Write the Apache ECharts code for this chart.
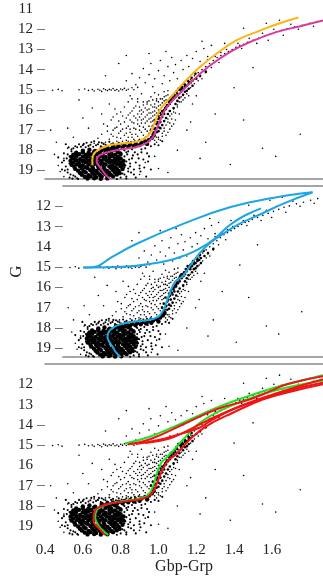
<!DOCTYPE html>
<html>
<head>
<meta charset="utf-8">
<script src="https://cdn.jsdelivr.net/npm/echarts@6/dist/echarts.min.js"></script>
<style>
  html, body { margin: 0; padding: 0; background: #fff; }
  #cmd { width: 323px; height: 579px; }
</style>
</head>
<body>
<div id="cmd"></div>
<script>
// colour-magnitude diagram, three stacked panels sharing the same stars

const xTicks = [0.4, 0.6, 0.8, 1.0, 1.2, 1.4, 1.6]
const yLabelsTop = [11, 12, 13, 14, 15, 16, 17, 18, 19]
const yLabels = [12, 13, 14, 15, 16, 17, 18, 19]
const yTicksTop = [12, 13, 14, 15, 16, 17, 18, 19]
const yTicksMid = [12, 13, 15, 16, 18, 19]
const yTicksLow = [14, 15, 17, 18]

// dense turn-off blob + subgiant branch
const coreStars = [
  [0.6,18.02],[0.635,17.97],[0.665,18.03],[0.7,17.98],[0.735,18.02],[0.77,17.97],
  [0.565,18.12],[0.6,18.1],[0.63,18.13],[0.66,18.08],[0.69,18.12],[0.72,18.09],[0.75,18.13],[0.785,18.08],
  [0.55,18.22],[0.58,18.19],[0.615,18.23],[0.645,18.2],[0.675,18.18],[0.705,18.23],[0.74,18.2],[0.77,18.22],[0.8,18.18],
  [0.54,18.33],[0.565,18.29],[0.6,18.31],[0.63,18.28],[0.66,18.32],[0.69,18.3],[0.72,18.33],[0.755,18.28],[0.785,18.32],
  [0.55,18.41],[0.585,18.44],[0.615,18.39],[0.645,18.43],[0.68,18.4],[0.71,18.42],[0.74,18.38],[0.77,18.43],[0.8,18.4],
  [0.535,18.52],[0.565,18.49],[0.6,18.53],[0.63,18.5],[0.66,18.48],[0.695,18.52],[0.725,18.5],[0.755,18.53],[0.785,18.48],[0.815,18.52],
  [0.55,18.61],[0.58,18.63],[0.615,18.59],[0.645,18.62],[0.675,18.6],[0.705,18.64],[0.74,18.59],[0.77,18.62],[0.8,18.6],
  [0.54,18.72],[0.57,18.69],[0.6,18.73],[0.63,18.7],[0.66,18.68],[0.69,18.72],[0.72,18.7],[0.755,18.73],[0.785,18.69],[0.815,18.72],
  [0.555,18.81],[0.585,18.79],[0.615,18.83],[0.65,18.8],[0.68,18.78],[0.71,18.82],[0.74,18.8],[0.77,18.83],[0.8,18.79],
  [0.56,18.92],[0.595,18.9],[0.625,18.88],[0.655,18.92],[0.685,18.9],[0.715,18.93],[0.75,18.89],[0.78,18.91],[0.81,18.93],
  [0.575,19.01],[0.605,19.03],[0.64,18.99],[0.67,19.02],[0.7,19.0],[0.73,19.03],[0.76,18.99],[0.79,19.02],
  [0.585,19.12],[0.615,19.09],[0.65,19.11],[0.68,19.13],[0.71,19.1],[0.74,19.12],[0.77,19.09],[0.795,19.13],
  [0.595,19.21],[0.63,19.23],[0.66,19.2],[0.69,19.22],[0.72,19.19],[0.75,19.23],[0.78,19.2],
  [0.61,19.31],[0.64,19.29],[0.67,19.33],[0.7,19.3],[0.73,19.32],[0.76,19.29],
  [0.625,19.4],[0.66,19.38],[0.695,19.41],[0.73,19.39],
  [0.7,17.9],[0.73,17.86],[0.76,17.82],[0.79,17.79],[0.82,17.75],[0.85,17.71],[0.88,17.68],[0.91,17.63],[0.93,17.56],
  [0.72,17.96],[0.75,17.93],[0.78,17.89],[0.81,17.86],[0.84,17.82],[0.87,17.78],[0.9,17.74],[0.94,17.68],
  [0.95,17.48],[0.965,17.38],[0.975,17.26]
]

// red giant branch band
const giantStars = [
  [0.97,17.2],[0.99,17.1],[0.98,16.95],[1.0,16.85],[0.99,16.7],[1.01,16.6],[1.0,16.45],[1.02,16.35],[1.03,16.2],
  [1.02,16.05],[1.04,15.95],[1.05,15.8],[1.06,15.7],[1.07,15.55],[1.08,15.45],[1.09,15.35],[1.1,15.2],[1.12,15.1],
  [1.13,14.95],[1.15,14.8],[1.17,14.65],[1.2,14.45],[1.22,14.3],[1.25,14.1],
  [1.0,17.05],[1.01,16.9],[1.02,16.75],[1.03,16.55],[1.04,16.4],[1.05,16.2],[1.06,16.05],[1.08,15.9],[1.09,15.7],
  [1.1,15.55],[1.11,15.4],[1.13,15.25],[1.14,15.1],[1.16,14.95],[1.18,14.8],[0.96,17.0],[0.97,16.8],[0.98,16.5],
  [1.0,16.3],[1.01,16.15],[1.12,14.9],[1.14,14.75],[1.16,14.6],[1.11,15.0],[1.15,15.05],
  [0.975,17.1],[0.985,16.9],[0.995,16.6],[1.005,16.4],[1.015,16.25],[1.025,16.1],[1.035,15.9],[1.045,15.75],
  [1.055,15.6],[1.065,15.45],[1.075,15.35],[1.085,15.25],[1.095,15.1],[1.105,14.95],[1.125,14.85],[1.135,14.7],
  [1.155,14.55],[1.175,14.4],[1.195,14.2],[1.03,16.0],[1.04,15.85],[1.06,15.5],[1.07,15.35],[1.12,15.0],
  [1.14,14.85],[1.16,14.7],[1.18,14.55]
]

// stars around the turn-off blob
const edgeStars = [
  [0.5,18.5],[0.51,18.8],[0.52,18.2],[0.52,19.1],[0.53,18.65],[0.53,19.35],[0.54,17.95],[0.55,19.25],[0.56,17.8],
  [0.57,19.38],[0.58,17.7],[0.6,17.75],[0.62,17.62],[0.64,17.72],[0.66,17.55],[0.68,17.7],[0.7,17.62],[0.72,17.72],
  [0.74,17.58],[0.76,17.65],[0.8,18.1],[0.82,18.3],[0.83,18.55],[0.84,18.05],[0.85,18.8],[0.86,18.4],[0.84,19.05],
  [0.83,19.3],[0.87,19.2],[0.88,18.6],[0.89,18.2],[0.86,17.95],[0.82,18.85],[0.81,19.15],[0.8,19.35],[0.78,19.42],
  [0.9,18.9],[0.92,18.45],[0.91,17.95],[0.94,18.15],[0.88,17.85],[0.49,18.95],[0.51,17.7],[0.47,18.35],
  [0.49,18.6],[0.5,18.15],[0.505,19.0],[0.515,18.4],[0.52,18.95],[0.525,17.85],[0.53,18.3],[0.535,19.2],[0.54,18.05],
  [0.545,19.4],[0.55,17.9],[0.56,19.3],[0.57,17.85],[0.575,19.42],[0.59,17.82],[0.605,17.68],[0.615,17.85],[0.63,17.78],
  [0.645,17.6],[0.655,17.82],[0.67,17.75],[0.685,17.6],[0.695,17.8],[0.71,17.68],[0.73,17.78],[0.75,17.7],[0.775,17.72],
  [0.79,17.62],[0.805,17.68],[0.83,17.62],[0.855,17.58],[0.875,17.55],[0.895,17.52],[0.82,18.0],[0.835,18.2],
  [0.845,18.45],[0.85,18.65],[0.84,18.9],[0.855,19.1],[0.83,19.4],[0.865,18.25],[0.87,18.95],[0.875,18.1],[0.88,19.35],
  [0.895,18.4],[0.9,18.75],[0.905,19.05],[0.91,18.1],[0.925,18.85],[0.935,19.3],[0.945,18.55],[0.96,18.95],[0.82,19.2],
  [0.81,18.6],[0.825,18.75],[0.83,18.1],[0.815,17.95],[0.96,17.8],[0.93,17.9],[0.98,17.7],[1.0,17.75],[1.02,17.55],[0.95,18.3]
]

// horizontal branch, upper giants and field
const fieldStars = [
  [0.44,15.02],[0.47,14.98],[0.49,15.05],[0.58,15.0],[0.61,14.96],[0.63,15.03],[0.65,14.99],[0.66,15.06],[0.68,14.97],
  [0.69,15.02],[0.7,15.08],[0.71,14.95],[0.72,15.0],[0.73,15.04],[0.74,14.98],[0.75,15.01],[0.76,14.94],[0.77,15.03],
  [0.78,14.99],[0.79,15.06],[0.8,14.96],[0.81,15.0],[0.82,14.93],[0.83,15.02],[0.84,14.97],[0.86,14.9],[0.87,15.0],[0.89,14.88],
  [0.83,14.55],[0.86,14.2],[0.88,14.75],[0.9,14.4],[0.92,13.95],[0.93,14.65],[0.95,14.25],[0.96,13.7],[0.97,14.85],
  [0.98,14.45],[1.0,14.05],[1.01,13.55],[1.02,14.7],[1.03,14.3],[1.05,13.85],[1.06,14.55],[1.07,13.4],[1.08,14.15],
  [1.09,13.75],[1.1,14.45],[1.12,13.55],[1.13,14.0],[1.15,13.3],[1.16,13.85],[1.18,13.45],[1.2,13.1],[1.22,13.6],
  [1.24,12.95],[1.26,13.35],[1.28,12.8],[0.85,15.3],[0.89,15.45],[0.91,15.2],[0.94,15.6],[0.96,15.35],[0.98,15.15],
  [0.99,15.55],[1.0,15.25],[1.02,15.45],[1.03,15.1],[1.04,15.3],[1.05,15.05],
  [1.17,14.5],[1.19,14.3],[1.21,14.15],[1.23,14.0],[1.25,13.85],[1.27,13.7],[1.29,13.55],[1.31,13.4],[1.33,13.3],
  [1.35,13.2],[1.37,13.1],[1.39,13.0],[1.41,12.9],[1.43,12.8],[1.45,12.75],[1.47,12.65],[1.5,12.55],[1.53,12.45],
  [1.56,12.35],[1.59,12.25],[1.62,12.15],[1.65,12.05],[1.68,11.98],[1.72,11.88],[1.76,11.8],[1.8,11.7],[1.84,11.62],
  [1.3,13.35],[1.36,13.0],[1.42,12.7],[1.48,12.45],[1.55,12.2],[1.61,12.0],[1.7,11.75],[1.26,13.5],[1.33,13.15],
  [1.44,12.95],[1.52,12.7],[1.58,12.55],[1.66,12.3],[1.74,12.0],[1.82,11.85],[1.57,11.7],[1.35,12.7],[1.64,11.55],
  [1.22,14.35],[1.25,14.15],[1.28,13.9],[1.32,13.65],
  [0.74,17.45],[0.76,17.3],[0.78,17.55],[0.79,17.15],[0.8,17.4],[0.81,16.95],[0.82,17.25],[0.83,17.5],[0.84,16.8],
  [0.85,17.1],[0.86,17.35],[0.86,16.6],[0.87,16.9],[0.88,17.2],[0.88,16.4],[0.89,16.7],[0.9,17.0],[0.9,17.45],
  [0.91,16.5],[0.91,16.2],[0.92,16.85],[0.92,17.25],[0.93,16.35],[0.93,16.65],[0.94,17.05],[0.94,16.0],[0.95,16.45],
  [0.95,16.8],[0.96,16.15],[0.96,16.6],[0.97,15.85],[0.97,16.3],[0.98,16.05],[0.98,15.7],[0.99,15.9],[1.0,15.6],
  [0.84,17.55],[0.8,16.7],[0.83,16.4],[0.85,16.15],[0.87,15.9],[0.78,16.85],[0.76,17.0],[0.73,16.8],[0.75,16.5],
  [0.81,16.3],[0.7,17.2],[0.72,17.6],[0.68,17.4],[0.66,17.65],[0.89,15.6],[0.92,15.75],[0.95,15.55],[0.9,16.05],
  [1.01,15.75],[1.03,15.55],
  [0.75,17.2],[0.77,16.9],[0.78,17.35],[0.79,16.55],[0.8,17.05],[0.81,17.55],[0.82,16.6],[0.83,16.9],[0.83,17.15],
  [0.84,16.25],[0.84,17.35],[0.85,16.5],[0.85,16.95],[0.86,16.05],[0.86,17.2],[0.87,16.3],[0.87,16.65],[0.87,17.45],
  [0.88,15.8],[0.88,16.95],[0.89,16.2],[0.89,16.5],[0.89,17.3],[0.9,15.85],[0.9,16.35],[0.9,16.8],[0.91,16.0],
  [0.91,16.65],[0.91,17.1],[0.92,15.6],[0.92,16.1],[0.92,16.45],[0.93,15.9],[0.93,16.95],[0.93,17.35],[0.94,15.7],
  [0.94,16.25],[0.94,16.55],[0.95,15.95],[0.95,16.15],[0.95,17.15],[0.96,15.75],[0.96,16.4],[0.96,16.95],[0.97,15.5],
  [0.97,16.1],[0.97,16.55],[0.98,15.85],[0.98,16.25],[0.99,15.45],[0.99,16.15],[1.0,15.8],[1.0,16.0],[1.01,15.45],
  [1.02,15.65],[1.03,15.35],[1.04,15.5],[1.05,15.25],[1.06,15.4],[0.8,16.1],[0.82,15.85],[0.84,15.6],[0.86,15.45],
  [0.78,16.2],[0.76,16.35],[0.77,15.95],[0.73,17.05],[0.71,16.7],
  [1.03,16.9],[1.05,16.6],[1.06,16.3],[1.08,16.1],[1.1,15.85],[1.12,15.6],[1.14,15.4],[1.05,17.1],[1.07,16.8],
  [1.02,17.3],[1.0,17.45],[0.99,17.6],[1.09,16.5],[1.11,16.2],[1.2,15.3],[1.18,15.7],
  [1.0,17.35],[1.02,17.15],[1.03,17.05],[1.04,16.75],[1.05,16.45],[1.06,16.65],[1.07,16.2],[1.07,16.45],[1.08,15.95],
  [1.09,16.15],[1.1,15.75],[1.11,15.6],[1.12,15.35],[1.13,15.5],[1.15,15.2],[1.16,15.3],[1.17,14.9],[1.19,14.7],
  [1.21,14.55],[1.23,14.45],[1.06,16.95],[1.08,16.7],[1.04,17.25],[1.01,17.5],[0.99,17.35],[0.98,17.5],
  [1.15,17.0],[1.25,17.6],[1.22,18.4],[1.38,18.7],[1.45,16.5],[1.55,17.9],[1.0,18.9],[1.05,19.1],[0.93,18.6],
  [0.9,19.2],[0.98,18.3],[1.1,18.0],[1.3,16.2],[1.17,16.6],[0.45,18.2],[0.47,18.75],[0.43,17.0],[0.46,17.6],
  [0.5,19.3],[0.48,19.05],[0.52,16.9],[0.55,17.35],[0.6,16.4],[0.63,16.9],[0.65,15.9],[0.7,16.2],[0.58,15.5],
  [0.74,15.7],[0.52,17.9],[0.5,18.4],[1.62,18.3],[1.75,17.2],[1.4,14.9],[1.5,13.9],[0.79,13.7],[0.72,14.3],
  [0.83,13.3],[0.95,13.2],[1.45,11.95],[1.23,12.6],[1.04,13.1]
]

// isochrones, panel 1
const yellowIso = [[0.652,18.75],[0.650,18.5],[0.656,18.21],[0.672,18.05],[0.691,17.93],[0.725,17.8],[0.761,17.71],
  [0.815,17.65],[0.867,17.6],[0.9,17.53],[0.92,17.43],[0.94,17.32],[0.956,17.14],[0.97,16.85],[0.982,16.57],
  [1.008,15.99],[1.03,15.72],[1.061,15.41],[1.132,14.67],[1.22,13.86],[1.308,13.2],[1.414,12.54],[1.52,12.13],
  [1.626,11.75],[1.74,11.42]]
const magentaIso = [[0.744,19.42],[0.72,19.2],[0.7,18.95],[0.682,18.72],[0.673,18.54],[0.676,18.38],[0.69,18.24],
  [0.726,18.1],[0.797,17.96],[0.885,17.83],[0.938,17.63],[0.96,17.45],[0.973,17.31],[0.988,17.0],[1.0,16.73],
  [1.026,16.15],[1.045,15.85],[1.07,15.58],[1.088,15.41],[1.167,14.67],[1.264,13.86],[1.379,13.12],[1.485,12.63],
  [1.626,12.13],[1.749,11.85],[1.87,11.56]]

// panel 2
const blueRgb = [[0.726,19.43],[0.7,19.2],[0.682,18.94],[0.66,18.65],[0.652,18.45],[0.656,18.25],[0.665,18.12],
  [0.708,17.87],[0.797,17.69],[0.885,17.61],[0.938,17.45],[0.958,17.25],[0.973,17.03],[1.0,16.37],[1.035,15.71],
  [1.079,15.43],[1.132,14.77],[1.203,14.03],[1.29,13.45],[1.397,12.87],[1.52,12.38],[1.643,11.88],[1.811,11.31]]
const blueFlash = [[1.811,11.31],[1.608,11.55],[1.343,12.05],[1.079,12.87],[0.814,13.86],[0.674,14.52],
  [0.576,14.99],[0.515,15.02]]
const blueHb = [[0.515,15.02],[0.65,15.0],[0.814,14.93],[0.991,14.69],[1.1,14.38],[1.167,14.11],[1.256,13.61],
  [1.343,12.92],[1.434,12.43],[1.52,12.1]]

// panel 3
const greenRgb = [[0.735,19.43],[0.705,19.2],[0.682,18.95],[0.665,18.54],[0.673,18.21],[0.726,17.93],[0.814,17.75],
  [0.903,17.63],[0.947,17.43],[0.973,16.98],[0.991,16.4],[1.017,15.83],[1.045,15.6],[1.132,14.71],[1.22,13.89],
  [1.361,13.15],[1.52,12.58],[1.679,12.16],[1.87,11.82]]
const greenHb = [[0.823,14.92],[0.95,14.6],[1.08,14.1],[1.2,13.6],[1.32,13.1],[1.47,12.6],[1.64,12.1],[1.87,11.55]]
const redRgb = [[0.717,19.43],[0.69,19.15],[0.656,18.7],[0.665,18.21],[0.7,18.0],[0.744,17.88],[0.832,17.76],
  [0.92,17.63],[0.965,17.38],[0.991,16.89],[1.017,16.32],[1.052,15.74],[1.088,15.5],[1.167,14.71],[1.256,14.05],
  [1.396,13.39],[1.555,12.74],[1.714,12.33],[1.87,12.0]]
const redHbA = [[0.841,14.96],[0.956,14.71],[1.132,13.97],[1.308,13.23],[1.485,12.74],[1.6,12.3],[1.679,12.0],[1.87,11.6]]
const redHbB = [[0.88,14.95],[1.0,14.75],[1.079,14.55],[1.22,14.13],[1.273,13.81],[1.396,13.23],[1.573,12.66],
  [1.749,12.16],[1.87,11.92]]
const redHbC = [[0.93,14.9],[1.05,14.7],[1.132,14.38],[1.22,13.97],[1.3,13.6],[1.45,13.0],[1.62,12.45],[1.87,11.75]]

const serif = 'Liberation Serif'
const frame = { show: true, lineStyle: { color: '#888', width: 1.5 } }

function xAxis(gridIndex, position, line, labels) {
  return {
    type: 'value', gridIndex, position, min: 0.4, max: 1.87,
    axisLine: line ? frame : { show: false },
    axisTick: { show: false },
    splitLine: { show: false },
    axisLabel: labels
      ? { show: true, customValues: xTicks, color: '#222', fontFamily: serif, fontSize: 15, margin: 8,
          formatter: (v) => v.toFixed(1) }
      : { show: false }
  }
}

function yAxis(gridIndex, min, max, labels, ticks) {
  return {
    type: 'value', gridIndex, inverse: true, min, max,
    axisLine: { show: false },
    splitLine: { show: false },
    axisTick: { show: true, customValues: ticks, length: 8, lineStyle: { color: '#777' } },
    axisLabel: { customValues: labels, color: '#222', fontFamily: serif, fontSize: 15, margin: 12 }
  }
}

function stars(xi, yi) {
  const s = (data, size) => ({
    type: 'scatter', xAxisIndex: xi, yAxisIndex: yi, data, symbolSize: size,
    itemStyle: { color: '#000', opacity: 1 }, silent: true
  })
  return [s(fieldStars, 1.6), s(edgeStars, 2.1), s(giantStars, 2.6), s(coreStars, 4.4)]
}

function curve(xi, yi, data, color) {
  return {
    type: 'line', xAxisIndex: xi, yAxisIndex: yi, data, color,
    showSymbol: false, smooth: 0.45, silent: true,
    lineStyle: { width: 2, color }
  }
}

const chart = echarts.init(document.getElementById('cmd'))
const yMid = yAxis(1, 11, 19.43, yLabels, yTicksMid)
yMid.name = 'G'
yMid.nameLocation = 'middle'
yMid.nameGap = 32
yMid.nameTextStyle = { fontFamily: serif, fontSize: 17, color: '#222' }

const xLow = xAxis(2, 'bottom', false, true)
xLow.name = 'Gbp-Grp'
xLow.nameLocation = 'middle'
xLow.nameGap = 20
xLow.nameTextStyle = { fontFamily: serif, fontSize: 16, color: '#222' }

chart.setOption({
  animation: false,
  grid: [
    { left: 45, right: 0, top: 0, height: 179 },
    { left: 45, right: 0, top: 186, height: 171 },
    { left: 45, right: 0, top: 364, height: 171 }
  ],
  xAxis: [
    xAxis(0, 'bottom', true, false),
    xAxis(1, 'top', true, false),
    xAxis(1, 'bottom', true, false),
    xAxis(2, 'top', true, false),
    xLow
  ],
  yAxis: [
    yAxis(0, 10.55, 19.42, yLabelsTop, yTicksTop),
    yMid,
    yAxis(2, 11, 19.43, yLabels, yTicksLow)
  ],
  series: [
    ...stars(0, 0),
    curve(0, 0, magentaIso, '#D93A9E'),
    curve(0, 0, yellowIso, '#FBB612'),
    ...stars(2, 1),
    curve(2, 1, blueRgb, '#1EA5E4'),
    curve(2, 1, blueFlash, '#1EA5E4'),
    curve(2, 1, blueHb, '#1EA5E4'),
    ...stars(4, 2),
    curve(4, 2, greenHb, '#22E022'),
    curve(4, 2, greenRgb, '#22E022'),
    curve(4, 2, redHbA, '#F01414'),
    curve(4, 2, redHbB, '#F01414'),
    curve(4, 2, redHbC, '#F01414'),
    curve(4, 2, redRgb, '#F01414')
  ]
})
</script>
</body>
</html>
